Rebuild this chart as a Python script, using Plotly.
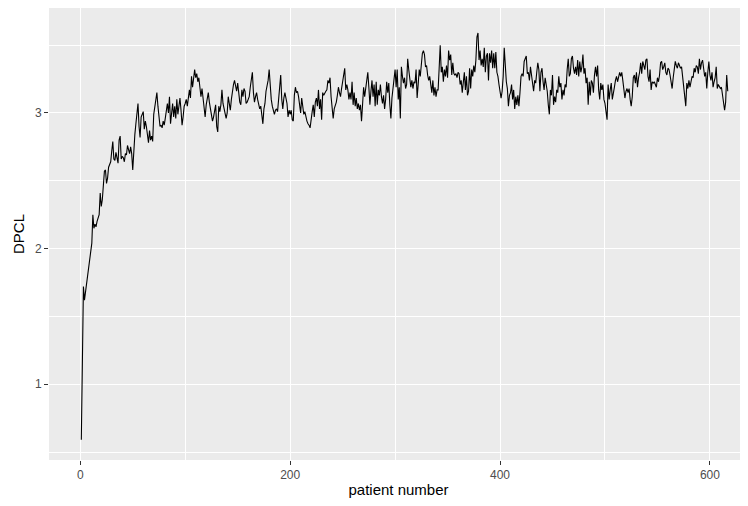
import plotly.graph_objects as go

# DPCL values per patient (patient numbers 1..617)
dpcl = [
    0.59, 1.44, 1.72, 1.62, 1.68, 1.76, 1.83, 1.89, 1.95, 1.99,
    2.04, 2.25, 2.15, 2.18, 2.16, 2.20, 2.22, 2.25, 2.41, 2.31,
    2.36, 2.48, 2.57, 2.58, 2.48, 2.52, 2.60, 2.62, 2.64, 2.72,
    2.79, 2.66, 2.65, 2.71, 2.66, 2.63, 2.80, 2.83, 2.66, 2.68,
    2.67, 2.64, 2.70, 2.69, 2.76, 2.72, 2.70, 2.75, 2.70, 2.58,
    2.74, 2.84, 2.92, 3.00, 3.07, 2.90, 2.82, 2.97, 2.99, 3.01,
    2.88, 2.94, 2.90, 2.85, 2.78, 2.87, 2.80, 2.83, 2.79, 2.99,
    3.05, 3.07, 3.15, 3.05, 2.97, 2.90, 2.91, 2.89, 2.94, 2.91,
    2.96, 3.03, 3.07, 3.00, 3.12, 2.92, 3.03, 3.07, 2.97, 3.05,
    2.96, 3.10, 2.99, 3.05, 3.11, 3.02, 2.91, 2.97, 3.05, 3.07,
    3.10, 3.05, 3.12, 3.17, 3.11, 3.27, 3.19, 3.28, 3.32, 3.26,
    3.29, 3.23, 3.26, 3.19, 3.12, 3.18, 3.11, 3.02, 2.97, 3.06,
    3.10, 3.15, 3.08, 3.03, 2.99, 2.94, 2.97, 3.03, 3.06, 2.90,
    2.86, 3.05, 3.01, 3.06, 3.17, 3.07, 3.03, 3.00, 2.96, 3.00,
    3.12, 3.07, 3.02, 3.10, 3.18, 3.21, 3.24, 3.19, 3.16, 3.22,
    3.12, 3.08, 3.06, 3.17, 3.12, 3.18, 3.16, 3.07, 3.08, 3.10,
    3.12, 3.19, 3.27, 3.30, 3.15, 3.08, 3.12, 3.15, 3.10, 3.06,
    3.03, 3.05, 2.99, 2.92, 3.03, 3.07, 3.16, 3.19, 3.24, 3.32,
    3.17, 3.10, 3.05, 3.01, 2.99, 3.02, 3.03, 3.01, 3.10, 3.24,
    3.28, 3.10, 3.03, 3.11, 3.15, 3.11, 3.07, 2.97, 3.02, 2.99,
    3.02, 2.95, 2.94, 3.13, 3.19, 3.15, 3.16, 3.12, 3.05, 3.00,
    3.11, 3.03, 2.99, 3.01, 2.96, 2.94, 2.92, 2.91, 2.89, 2.97,
    3.01, 3.06, 2.97, 3.08, 3.11, 3.05, 3.17, 3.03, 3.10, 2.95,
    3.15, 3.13, 3.15, 3.16, 3.17, 3.24, 3.22, 3.26, 3.12, 3.05,
    2.96, 3.03, 3.05, 3.08, 3.13, 3.19, 3.15, 3.12, 3.18, 3.23,
    3.27, 3.33, 3.17, 3.21, 3.17, 3.10, 3.15, 3.10, 3.23, 3.06,
    3.15, 3.05, 3.11, 3.03, 3.07, 3.02, 3.06, 2.94, 3.06, 3.19,
    3.12, 3.19, 3.26, 3.30, 3.19, 3.06, 3.16, 3.24, 3.12, 3.21,
    3.05, 3.23, 3.06, 3.17, 3.13, 3.21, 3.12, 3.07, 3.13, 3.03,
    3.10, 3.23, 3.15, 3.22, 3.06, 2.96, 3.11, 3.18, 3.29, 3.32,
    3.19, 3.32, 3.10, 3.19, 2.96, 3.34, 3.27, 3.22, 3.26, 3.18,
    3.21, 3.40, 3.32, 3.23, 3.19, 3.24, 3.18, 3.23, 3.22, 3.32,
    3.11, 3.21, 3.32, 3.27, 3.37, 3.44, 3.46, 3.43, 3.34, 3.35,
    3.28, 3.24, 3.27, 3.22, 3.15, 3.24, 3.13, 3.19, 3.12, 3.17,
    3.17, 3.33, 3.50, 3.30, 3.34, 3.23, 3.32, 3.27, 3.35, 3.26,
    3.46, 3.39, 3.43, 3.28, 3.37, 3.29, 3.28, 3.29, 3.26, 3.30,
    3.29, 3.21, 3.24, 3.15, 3.22, 3.30, 3.17, 3.27, 3.13, 3.16,
    3.33, 3.18, 3.32, 3.27, 3.35, 3.30, 3.39, 3.56, 3.59, 3.39,
    3.46, 3.35, 3.40, 3.34, 3.48, 3.30, 3.42, 3.44, 3.24, 3.44,
    3.37, 3.46, 3.33, 3.44, 3.33, 3.45, 3.30, 3.27, 3.21, 3.17,
    3.11, 3.16, 3.27, 3.48, 3.32, 3.23, 3.18, 3.05, 3.13, 3.15,
    3.21, 3.10, 3.17, 3.03, 3.12, 3.06, 3.13, 3.05, 3.15, 3.27,
    3.29, 3.27, 3.38, 3.40, 3.42, 3.29, 3.30, 3.24, 3.34, 3.28,
    3.22, 3.16, 3.24, 3.22, 3.30, 3.37, 3.32, 3.16, 3.30, 3.33,
    3.23, 3.17, 3.26, 3.21, 3.16, 3.06, 2.99, 3.17, 3.13, 3.28,
    3.06, 3.12, 3.08, 3.17, 3.15, 3.27, 3.19, 3.22, 3.10, 3.17,
    3.13, 3.21, 3.19, 3.32, 3.40, 3.27, 3.29, 3.40, 3.42, 3.33,
    3.29, 3.34, 3.28, 3.39, 3.27, 3.38, 3.30, 3.34, 3.43, 3.29,
    3.33, 3.22, 3.26, 3.06, 3.23, 3.13, 3.24, 3.22, 3.15, 3.28,
    3.34, 3.27, 3.35, 3.17, 3.10, 3.22, 3.17, 3.21, 3.10, 3.07,
    3.00, 2.95, 3.21, 3.10, 3.17, 3.22, 3.10, 3.17, 3.19, 3.24,
    3.27, 3.23, 3.28, 3.30, 3.27, 3.30, 3.24, 3.18, 3.11, 3.16,
    3.18, 3.15, 3.18, 3.10, 3.05, 3.12, 3.26, 3.28, 3.22, 3.30,
    3.19, 3.26, 3.30, 3.37, 3.29, 3.38, 3.34, 3.32, 3.39, 3.40,
    3.27, 3.23, 3.32, 3.17, 3.23, 3.22, 3.23, 3.21, 3.19, 3.26,
    3.23, 3.28, 3.37, 3.38, 3.32, 3.34, 3.37, 3.30, 3.28, 3.33,
    3.32, 3.28, 3.23, 3.18, 3.26, 3.34, 3.38, 3.35, 3.33, 3.37,
    3.35, 3.33, 3.34, 3.27, 3.18, 3.12, 3.05, 3.22, 3.18, 3.24,
    3.19, 3.23, 3.27, 3.26, 3.33, 3.30, 3.35, 3.34, 3.29, 3.40,
    3.32, 3.37, 3.39, 3.33, 3.27, 3.30, 3.18, 3.30, 3.38, 3.28,
    3.24, 3.30, 3.19, 3.23, 3.26, 3.34, 3.18, 3.21, 3.19, 3.18,
    3.19, 3.13, 3.05, 3.02, 3.08, 3.28, 3.16,
]
patient = list(range(1, len(dpcl) + 1))

x_ticks = [0, 200, 400, 600]
y_ticks = [1, 2, 3]

fig = go.Figure()
fig.add_trace(go.Scatter(
    x=patient, y=dpcl, mode="lines",
    line=dict(color="black", width=1.1),
    hoverinfo="skip", showlegend=False,
))

font_family = "Arial, Liberation Sans, sans-serif"

# the page body adds an 8px margin; keep the figure small enough not to overflow the window
fig.update_layout(
    width=740, height=490,
    margin=dict(l=41, r=0, t=0, b=38),
    paper_bgcolor="white",
    plot_bgcolor="#EBEBEB",
    font=dict(family=font_family, color="#4D4D4D", size=12),
    showlegend=False,
)

fig.update_xaxes(
    range=[-29.8, 636.3],
    tickmode="array", tickvals=x_ticks, ticktext=[str(v) for v in x_ticks],
    ticks="outside", ticklen=4, tickwidth=1, tickcolor="#333333",
    tickfont=dict(size=12, color="#4D4D4D"),
    showgrid=True, gridcolor="white", gridwidth=1.1,
    minor=dict(dtick=100, tick0=0, showgrid=True, gridcolor="white", gridwidth=0.55, ticks=""),
    zeroline=False, showline=False,
    title=dict(text="patient number", font=dict(size=15, color="black"), standoff=4),
    automargin=False,
)
fig.update_yaxes(
    range=[0.441, 3.774],
    tickmode="array", tickvals=y_ticks, ticktext=[str(v) for v in y_ticks],
    ticks="outside", ticklen=4, tickwidth=1, tickcolor="#333333",
    tickfont=dict(size=12, color="#4D4D4D"),
    showgrid=True, gridcolor="white", gridwidth=1.1,
    minor=dict(dtick=0.5, tick0=0, showgrid=True, gridcolor="white", gridwidth=0.55, ticks=""),
    zeroline=False, showline=False,
    title=dict(text="DPCL", font=dict(size=15, color="black"), standoff=6),
    automargin=False,
)

fig.write_html("out.html")
